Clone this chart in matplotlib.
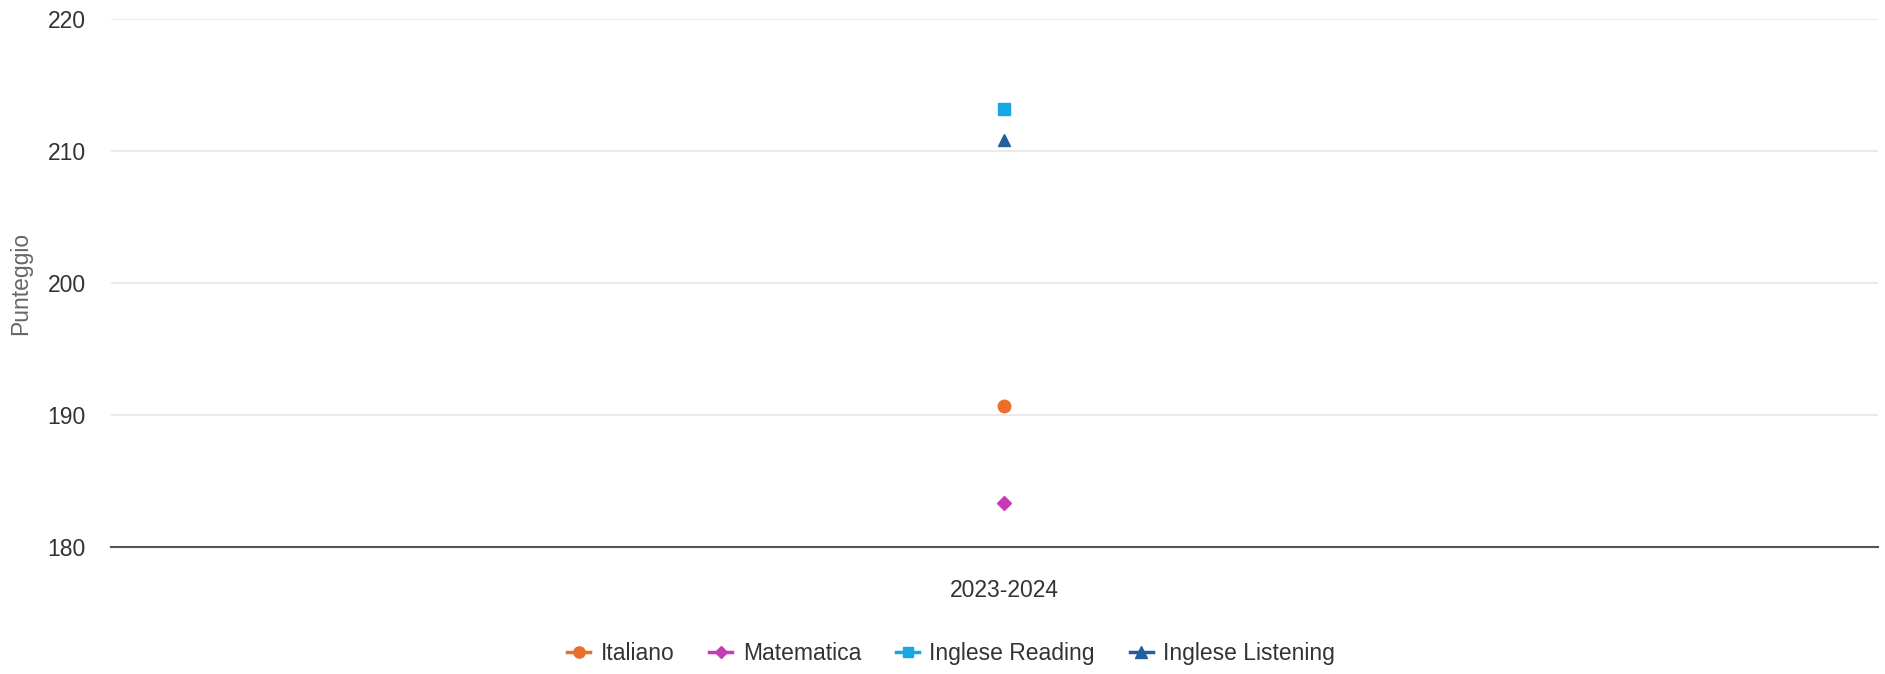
import matplotlib
matplotlib.use("Agg")
import matplotlib.pyplot as plt
from matplotlib.lines import Line2D

plt.rcParams['font.family'] = ['Liberation Sans', 'DejaVu Sans']

categories = ["2023-2024"]
series_names = ["Italiano", "Matematica", "Inglese Reading", "Inglese Listening"]
series_values = [[190.7], [183.3], [213.2], [210.8]]
colors = ["#EB6F2A", "#C63CB8", "#16A8E6", "#235E9E"]
markers = ["o", "D", "s", "^"]
msizes = [9, 6.8, 8.5, 9]
y_ticks = [180, 190, 200, 210, 220]

fig = plt.figure(figsize=(18.85, 6.74), dpi=100)
ax = fig.add_axes([0.0587, 0.1884, 0.9376, 0.7834])

xpos = list(range(len(categories)))
for name, vals, c, m, ms in zip(series_names, series_values, colors, markers, msizes):
    ax.plot(xpos, vals, linestyle='-', color=c, marker=m, markersize=ms, lw=2, label=name)

ax.set_xlim(-0.5055, 0.4945)
ax.set_ylim(180, 220)
ax.set_yticks(y_ticks)
ax.set_xticks(xpos)
ax.set_xticklabels(categories)
ax.grid(axis='y', color='#e6e6e6', lw=1.2)
ax.set_axisbelow(True)
for s in ['top', 'right', 'left']:
    ax.spines[s].set_visible(False)
ax.spines['bottom'].set_color('#555555')
ax.spines['bottom'].set_linewidth(1.5)
ax.tick_params(axis='y', length=0, pad=18, labelsize=16.5, labelcolor='#333333')
ax.tick_params(axis='x', length=0, pad=23, labelsize=16.5, labelcolor='#333333')
ax.set_ylabel("Punteggio", fontsize=16.5, color='#666666', labelpad=11)

handles = [Line2D([0], [0], color=c, marker=m, markersize=ms * 0.9, lw=2.5)
           for c, m, ms in zip(colors, markers, msizes)]
fig.legend(handles, series_names, loc='center', bbox_to_anchor=(0.5046, 0.031), ncol=4,
           frameon=False, fontsize=16.5, handlelength=1.0, handletextpad=0.45, columnspacing=1.53,
           labelcolor='#333333')

fig.savefig("out.png", dpi=100)
